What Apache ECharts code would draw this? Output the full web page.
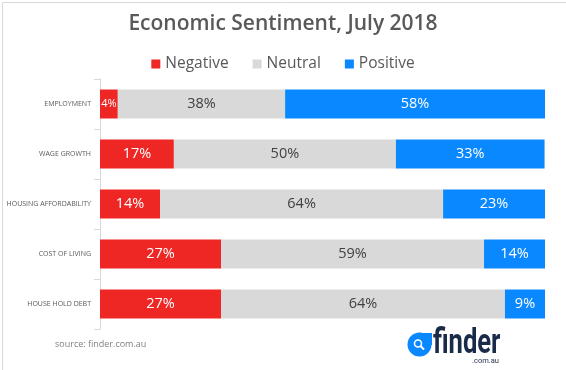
<!DOCTYPE html>
<html>
<head>
<meta charset="utf-8">
<script src="https://cdn.jsdelivr.net/npm/echarts@6/dist/echarts.min.js"></script>
<style>
html,body{margin:0;padding:0;background:#fff;}
#chart{width:566px;height:370px;}
</style>
</head>
<body>
<div id="chart"></div>
<script>
const categories = ['EMPLOYMENT', 'WAGE GROWTH', 'HOUSING AFFORDABILITY', 'COST OF LIVING', 'HOUSE HOLD DEBT'];
const negative = [4, 16.6, 13.5, 27.2, 27.2];
const neutral = [37.6, 49.9, 63.6, 59.1, 63.8];
const positive = [58.4, 33.4, 22.9, 13.7, 9];
const seriesNames = ['Negative', 'Neutral', 'Positive'];
const titleText = 'Economic Sentiment, July 2018';
const sourceText = 'source: finder.com.au';

const colors = ['#EE2724', '#D9D9D9', '#0A88FF'];
const labelColors = ['#ffffff', '#404040', '#ffffff'];
const font = 'Open Sans, Noto Sans, sans-serif';

function mkData(arr) {
  return arr.map(v => (v < 6 ? { value: v, label: { fontSize: 11 } } : v));
}

const chart = echarts.init(document.getElementById('chart'), null, { renderer: 'canvas' });
const allData = [negative, neutral, positive];
chart.setOption({
  animation: false,
  backgroundColor: '#ffffff',
  title: {
    text: titleText,
    left: 'center',
    top: 9,
    textStyle: { fontFamily: font, fontSize: 21, fontWeight: 600, color: '#595959' }
  },
  legend: {
    top: 51,
    left: 'center',
    itemWidth: 9,
    itemHeight: 9,
    itemGap: 24,
    icon: 'rect',
    textStyle: { fontFamily: font, fontSize: 15.5, color: '#595959' },
    data: seriesNames
  },
  grid: { left: 100, right: 21, top: 79, bottom: 41, containLabel: false, outerBoundsMode: 'none' },
  xAxis: { type: 'value', min: 0, max: 100, show: false },
  yAxis: {
    type: 'category',
    data: categories,
    inverse: true,
    axisLine: { show: true, lineStyle: { color: '#D9D9D9', width: 1 } },
    axisTick: { show: true, length: 6, lineStyle: { color: '#D9D9D9' } },
    axisLabel: { fontFamily: font, fontSize: 7, color: '#595959', margin: 9 }
  },
  series: seriesNames.map((name, idx) => ({
    name: name,
    type: 'bar',
    stack: 'total',
    barWidth: 29,
    itemStyle: { color: colors[idx] },
    label: {
      show: true,
      position: 'inside',
      fontFamily: font,
      fontSize: 14.5,
      color: labelColors[idx],
      formatter: p => Math.round(p.value) + '%'
    },
    data: mkData(allData[idx])
  })),
  graphic: [
    {
      type: 'rect', left: 0, top: 0,
      shape: { x: 0, y: 0, width: 565, height: 369 },
      style: { fill: 'none', stroke: '#D9D9D9', lineWidth: 1 },
      silent: true
    },
    {
      type: 'text', left: 55, top: 340,
      style: { text: sourceText, font: '9px ' + font, fill: '#7F7F7F' }
    },
    { type: 'rect', shape: { x: 419, y: 333, width: 13, height: 12 }, style: { fill: '#0A88FF' } },
    { type: 'circle', shape: { cx: 419.5, cy: 344.5, r: 12 }, style: { fill: '#0A88FF' } },
    { type: 'circle', shape: { cx: 418, cy: 343.5, r: 3.5 }, style: { fill: 'none', stroke: '#ffffff', lineWidth: 1.6 } },
    { type: 'line', shape: { x1: 420.5, y1: 346, x2: 424, y2: 349.5 }, style: { stroke: '#ffffff', lineWidth: 2 } },
    { type: 'text', x: 433, y: 327, scaleX: 0.73,
      style: { text: 'finder', font: 'bold 35px Roboto, sans-serif', fill: '#1A2B49', verticalAlign: 'top' } },
    { type: 'text', x: 472, y: 357, style: { text: '.com.au', font: '7.5px Roboto, sans-serif', fill: '#1A2B49', verticalAlign: 'top' } }
  ]
});
</script>
</body>
</html>
